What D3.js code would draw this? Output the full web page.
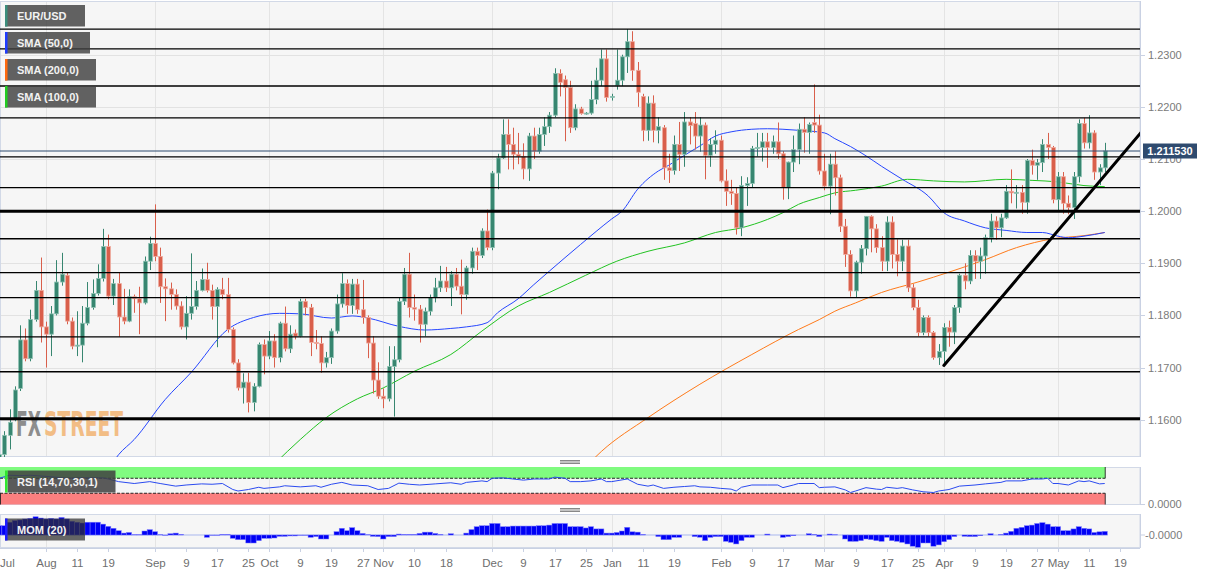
<!DOCTYPE html>
<html><head><meta charset="utf-8">
<script src="https://cdn.jsdelivr.net/npm/d3@7"></script>
<style>body{margin:0;background:#fff}svg{display:block;font-family:"Liberation Sans",Arial,sans-serif}</style>
</head><body><svg id="c" width="1217" height="574"></svg>
<script>
// ---------------- DATA ----------------
const symbol = "EUR/USD";
const firstCandleDate = "2020-07-21";      // first visible daily candle
const lastPrice = 1.211530;
// [open, high, low, close], one per trading day from firstCandleDate
const candles = [
[1.1450,1.1556,1.1440,1.1533],[1.1533,1.1578,1.1525,1.1570],[1.1570,1.1620,1.1543,1.1595],[1.1600,1.1664,1.1597,1.1657],
[1.1660,1.1781,1.1655,1.1753],[1.1753,1.1775,1.1712,1.1717],[1.1717,1.1811,1.1712,1.1792],[1.1792,1.1866,1.1788,1.1848],
[1.1848,1.1911,1.1748,1.1778],[1.1778,1.1788,1.1700,1.1764],[1.1764,1.1818,1.1722,1.1803],[1.1803,1.1906,1.1800,1.1864],
[1.1864,1.1920,1.1857,1.1879],[1.1877,1.1883,1.1783,1.1789],[1.1789,1.1796,1.1735,1.1741],[1.1741,1.1808,1.1722,1.1743],
[1.1743,1.1818,1.1710,1.1785],[1.1785,1.1864,1.1781,1.1815],[1.1815,1.1869,1.1811,1.1842],[1.1842,1.1898,1.1838,1.1871],
[1.1871,1.1966,1.1865,1.1932],[1.1932,1.1955,1.1831,1.1837],[1.1837,1.1870,1.1820,1.1861],[1.1861,1.1883,1.1759,1.1797],
[1.1797,1.1851,1.1783,1.1789],[1.1789,1.1850,1.1787,1.1836],[1.1836,1.1840,1.1805,1.1832],[1.1832,1.1855,1.1764,1.1824],
[1.1824,1.1913,1.1821,1.1904],[1.1904,1.1951,1.1887,1.1938],[1.1938,1.2013,1.1904,1.1913],[1.1913,1.1930,1.1824,1.1855],
[1.1855,1.1871,1.1789,1.1851],[1.1851,1.1863,1.1811,1.1840],[1.1840,1.1850,1.1811,1.1818],[1.1818,1.1827,1.1773,1.1778],
[1.1778,1.1837,1.1754,1.1804],[1.1804,1.1919,1.1792,1.1817],[1.1817,1.1866,1.1811,1.1848],[1.1848,1.1890,1.1846,1.1869],
[1.1869,1.1901,1.1844,1.1848],[1.1848,1.1859,1.1792,1.1817],[1.1817,1.1854,1.1739,1.1850],[1.1850,1.1872,1.1831,1.1840],
[1.1840,1.1872,1.1767,1.1773],[1.1773,1.1777,1.1706,1.1709],[1.1709,1.1716,1.1656,1.1661],[1.1661,1.1689,1.1631,1.1672],
[1.1672,1.1690,1.1614,1.1633],[1.1633,1.1670,1.1616,1.1664],[1.1664,1.1748,1.1662,1.1744],[1.1744,1.1754,1.1687,1.1722],
[1.1722,1.1770,1.1716,1.1751],[1.1751,1.1764,1.1700,1.1719],[1.1719,1.1788,1.1710,1.1785],[1.1785,1.1817,1.1731,1.1736],
[1.1736,1.1781,1.1728,1.1764],[1.1766,1.1773,1.1754,1.1760],[1.1760,1.1832,1.1758,1.1827],[1.1827,1.1832,1.1800,1.1815],
[1.1815,1.1822,1.1722,1.1748],[1.1748,1.1772,1.1735,1.1746],[1.1746,1.1760,1.1690,1.1709],[1.1709,1.1730,1.1700,1.1719],
[1.1719,1.1775,1.1707,1.1770],[1.1770,1.1840,1.1765,1.1822],[1.1822,1.1881,1.1815,1.1861],[1.1861,1.1869,1.1803,1.1819],
[1.1819,1.1870,1.1803,1.1860],[1.1860,1.1870,1.1803,1.1811],[1.1811,1.1868,1.1784,1.1796],[1.1796,1.1800,1.1718,1.1747],
[1.1747,1.1760,1.1650,1.1676],[1.1676,1.1710,1.1640,1.1645],[1.1645,1.1660,1.1622,1.1640],[1.1640,1.1741,1.1635,1.1702],
[1.1702,1.1741,1.1606,1.1715],[1.1715,1.1835,1.1710,1.1827],[1.1827,1.1891,1.1820,1.1879],[1.1879,1.1920,1.1796,1.1815],
[1.1815,1.1840,1.1790,1.1812],[1.1812,1.1820,1.1748,1.1783],[1.1783,1.1815,1.1760,1.1808],[1.1808,1.1840,1.1800,1.1834],
[1.1834,1.1872,1.1825,1.1853],[1.1853,1.1895,1.1845,1.1866],[1.1866,1.1893,1.1845,1.1853],[1.1853,1.1885,1.1818,1.1879],
[1.1879,1.1891,1.1848,1.1856],[1.1856,1.1907,1.1802,1.1840],[1.1840,1.1895,1.1830,1.1891],[1.1891,1.1930,1.1880,1.1923],
[1.1923,1.1930,1.1887,1.1915],[1.1915,1.1967,1.1910,1.1962],[1.1962,1.2003,1.1925,1.1930],[1.1930,1.2077,1.1925,1.2073],
[1.2073,1.2110,1.2042,1.2102],[1.2102,1.2176,1.2100,1.2147],[1.2147,1.2176,1.2080,1.2128],[1.2128,1.2160,1.2080,1.2109],
[1.2109,1.2150,1.2090,1.2105],[1.2105,1.2130,1.2061,1.2081],[1.2081,1.2150,1.2058,1.2144],[1.2144,1.2160,1.2100,1.2115],
[1.2115,1.2160,1.2110,1.2147],[1.2147,1.2180,1.2125,1.2162],[1.2162,1.2190,1.2150,1.2184],[1.2184,1.2274,1.2180,1.2264],
[1.2264,1.2272,1.2220,1.2247],[1.2252,1.2260,1.2134,1.2237],[1.2237,1.2250,1.2150,1.2160],[1.2160,1.2205,1.2155,1.2196],
[1.2196,1.2200,1.2185,1.2187],[1.2187,1.2190,1.2185,1.2188],[1.2188,1.2250,1.2185,1.2214],[1.2214,1.2275,1.2205,1.2251],
[1.2251,1.2310,1.2240,1.2292],[1.2292,1.2310,1.2210,1.2218],[1.2218,1.2225,1.2212,1.2220],[1.2241,1.2310,1.2233,1.2251],
[1.2251,1.2300,1.2240,1.2296],[1.2296,1.2349,1.2265,1.2325],[1.2325,1.2345,1.2250,1.2270],[1.2270,1.2286,1.2200,1.2228],
[1.2220,1.2225,1.2134,1.2155],[1.2155,1.2220,1.2135,1.2207],[1.2207,1.2222,1.2132,1.2155],[1.2155,1.2180,1.2130,1.2162],
[1.2160,1.2165,1.2060,1.2083],[1.2083,1.2110,1.2054,1.2078],[1.2078,1.2145,1.2070,1.2128],[1.2128,1.2171,1.2077,1.2109],
[1.2109,1.2190,1.2085,1.2171],[1.2171,1.2180,1.2128,1.2164],[1.2168,1.2190,1.2118,1.2144],[1.2144,1.2180,1.2114,1.2165],
[1.2165,1.2170,1.2061,1.2107],[1.2107,1.2140,1.2085,1.2128],[1.2128,1.2155,1.2110,1.2136],[1.2136,1.2145,1.2055,1.2058],
[1.2058,1.2080,1.2010,1.2038],[1.2038,1.2060,1.2012,1.2034],[1.2034,1.2045,1.1955,1.1968],[1.1968,1.2067,1.1952,1.2049],
[1.2049,1.2065,1.2010,1.2053],[1.2053,1.2125,1.2045,1.2120],[1.2120,1.2150,1.2105,1.2122],[1.2122,1.2150,1.2095,1.2133],
[1.2133,1.2150,1.2083,1.2122],[1.2122,1.2145,1.2110,1.2133],[1.2133,1.2170,1.2100,1.2110],[1.2110,1.2115,1.2022,1.2045],
[1.2045,1.2095,1.2023,1.2094],[1.2094,1.2145,1.2075,1.2118],[1.2118,1.2168,1.2090,1.2157],[1.2157,1.2180,1.2112,1.2151],
[1.2151,1.2170,1.2110,1.2166],[1.2170,1.2243,1.2150,1.2165],[1.2165,1.2185,1.2070,1.2077],[1.2077,1.2110,1.2040,1.2048],
[1.2048,1.2110,1.1994,1.2090],[1.2090,1.2115,1.2030,1.2064],[1.2064,1.2070,1.1960,1.1971],[1.1971,1.1985,1.1893,1.1917],
[1.1917,1.1925,1.1836,1.1847],[1.1847,1.1905,1.1834,1.1902],[1.1902,1.1935,1.1880,1.1928],[1.1928,1.1990,1.1915,1.1990],
[1.1990,1.1992,1.1921,1.1966],[1.1966,1.1975,1.1920,1.1930],[1.1930,1.1952,1.1885,1.1904],[1.1904,1.1990,1.1885,1.1979],
[1.1979,1.1990,1.1890,1.1917],[1.1917,1.1946,1.1875,1.1904],[1.1904,1.1945,1.1885,1.1933],[1.1933,1.1945,1.1845,1.1853],
[1.1853,1.1860,1.1810,1.1815],[1.1815,1.1830,1.1760,1.1767],[1.1767,1.1800,1.1762,1.1796],[1.1796,1.1800,1.1760,1.1767],
[1.1767,1.1770,1.1715,1.1719],[1.1719,1.1745,1.1705,1.1731],[1.1731,1.1785,1.1705,1.1777],[1.1777,1.1790,1.1740,1.1768],
[1.1768,1.1820,1.1745,1.1815],[1.1815,1.1880,1.1805,1.1877],[1.1877,1.1900,1.1850,1.1866],[1.1866,1.1925,1.1860,1.1915],
[1.1915,1.1925,1.1870,1.1904],[1.1904,1.1930,1.1870,1.1914],[1.1914,1.1955,1.1880,1.1949],[1.1949,1.1995,1.1940,1.1981],
[1.1981,1.1990,1.1945,1.1968],[1.1968,1.1995,1.1950,1.1987],[1.1987,1.2050,1.1985,1.2038],[1.2038,1.2080,1.2015,1.2035],
[1.2035,1.2050,1.2005,1.2036],[1.2036,1.2050,1.1995,1.2017],[1.2017,1.2100,1.1995,1.2097],[1.2097,1.2118,1.2070,1.2088],
[1.2088,1.2100,1.2060,1.2093],[1.2093,1.2138,1.2075,1.2128],[1.2128,1.2150,1.2100,1.2122],[1.2122,1.2125,1.2015,1.2022],
[1.2022,1.2075,1.1999,1.2066],[1.2066,1.2075,1.1995,1.2015],[1.2015,1.2030,1.1994,1.2007],[1.2007,1.2075,1.1985,1.2066],
[1.2066,1.2176,1.2055,1.2168],[1.2168,1.2179,1.2120,1.2131],[1.2131,1.2184,1.2120,1.2150],[1.2150,1.2155,1.2060,1.2075],
[1.2075,1.2090,1.2050,1.2083],[1.2083,1.2131,1.2075,1.21153]
];
// Momentum(20), one per candle
const mom = [
0.029,0.029,0.040,0.045,0.047,0.050,0.052,0.057,0.053,0.050,
0.052,0.050,0.055,0.050,0.043,0.040,0.0375,0.040,0.040,0.040,
0.034,0.027,0.021,0.0135,0.006,0.008,0.001,0.001,0.0125,0.0167,
0.0104,0.001,-0.001,0.004,0.006,0.002,0.000,0.000,0.000,0.000,
-0.0073,-0.001,-0.001,0.002,0.002,-0.0104,-0.0146,-0.0146,-0.025,-0.025,
-0.0177,-0.0104,-0.0104,-0.0094,-0.0042,-0.0042,-0.003,-0.003,-0.001,-0.001,
-0.0073,-0.005,-0.0125,-0.0125,0.000,0.0104,0.021,0.0135,0.023,0.0135,
0.005,0.001,-0.0042,-0.005,-0.0125,-0.005,-0.005,0.003,0.002,0.002,
0.002,0.005,0.009,0.009,0.005,0.002,0.000,0.004,0.000,0.000,
0.006,0.017,0.026,0.029,0.029,0.036,0.036,0.026,0.026,0.028,
0.028,0.028,0.028,0.028,0.029,0.029,0.031,0.036,0.036,0.036,
0.026,0.026,0.026,0.022,0.026,0.019,0.019,0.006,0.006,0.008,
0.0125,0.024,0.010,0.009,0.002,0.000,0.000,-0.005,-0.0146,-0.0146,
-0.0073,-0.0073,0.000,0.000,-0.005,-0.007,-0.0177,-0.0073,-0.005,-0.005,
-0.0198,-0.023,-0.028,-0.0177,-0.0073,-0.0073,0.000,0.000,0.003,0.000,
0.000,-0.0073,-0.005,-0.002,0.000,0.000,0.004,0.002,-0.005,0.000,
0.003,0.001,0.000,-0.0125,-0.0198,-0.0198,-0.0177,-0.0125,-0.0146,-0.0177,
-0.0198,-0.0073,-0.0177,-0.0198,-0.023,-0.028,-0.035,-0.0385,-0.025,-0.025,
-0.035,-0.031,-0.021,-0.0146,-0.005,0.000,-0.004,-0.005,-0.005,-0.002,
0.000,0.004,0.000,0.002,0.006,0.0115,0.021,0.024,0.029,0.031,
0.036,0.0385,0.034,0.026,0.026,0.0135,0.0135,0.019,0.026,0.021,
0.019,0.008,0.010,0.0115
];
// Indicator readings: [trading-day index counted from 2020-07-01, value]
const sma50 = [[35,1.1505],[37,1.1533],[40,1.1562],[46,1.1639],[51,1.1691],[58,1.1773],[63,1.1796],[68,1.1804],[72,1.1803],[78,1.1795],[82,1.1799],[85,1.1795],[91,1.1779],[96,1.1772],[101,1.1775],[104,1.1778],[108,1.1786],[110,1.1805],[114,1.1832],[117,1.1859],[120,1.1885],[126,1.1936],[132,1.1985],[134,1.2000],[137,1.2042],[141,1.2077],[143,1.2088],[146,1.2107],[149,1.2125],[152,1.2144],[155,1.2152],[159,1.2157],[162,1.2158],[165,1.2157],[168,1.2155],[173,1.2150],[175,1.2139],[178,1.2124],[181,1.2106],[184,1.2086],[188,1.2061],[193,1.2029],[196,1.1997],[200,1.1981],[204,1.1968],[208,1.1963],[212,1.1959],[215,1.1959],[218,1.1952],[220,1.1949],[223,1.1952],[227,1.1959]];
const sma100 = [[67,1.1515],[72,1.1562],[77,1.1604],[83,1.1640],[88,1.1661],[94,1.1693],[101,1.1725],[107,1.1770],[114,1.1818],[120,1.1844],[127,1.1877],[133,1.1904],[139,1.1923],[146,1.1939],[152,1.1959],[157,1.1968],[162,1.1984],[165,1.1997],[168,1.2013],[172,1.2026],[175,1.2035],[179,1.2040],[184,1.2048],[189,1.2061],[194,1.2058],[200,1.2056],[208,1.2061],[213,1.2059],[218,1.2056],[223,1.2049],[227,1.2047]];
const sma200 = [[127,1.1510],[130,1.1539],[139,1.1604],[149,1.1668],[159,1.1725],[168,1.1773],[172,1.1792],[175,1.1808],[179,1.1824],[184,1.1844],[191,1.1864],[197,1.1883],[204,1.1907],[210,1.1930],[217,1.1947],[223,1.1953],[227,1.1959]];
const rsi = [[14,70],[16,78],[18,77],[20,78],[22,76],[24,74],[27,70],[30,71],[34,71],[35,68],[37,61],[40,56],[43,61],[45,56],[48,49],[50,52],[53,55],[55,54],[57,56],[59,40],[60,36],[62,40],[64,46],[65,43],[68,47],[69,50],[72,47],[75,50],[76,46],[78,54],[80,59],[82,52],[85,50],[87,40],[89,43],[91,57],[93,54],[95,52],[98,55],[101,58],[103,54],[104,59],[107,63],[108,61],[109,70],[111,71],[113,68],[115,65],[117,68],[120,68],[121,73],[123,70],[124,61],[126,61],[128,63],[130,68],[131,61],[132,61],[135,68],[137,54],[139,49],[140,52],[142,43],[144,46],[146,48],[148,50],[149,47],[151,46],[153,43],[155,41],[156,36],[157,46],[159,52],[162,52],[164,52],[165,45],[167,52],[168,56],[171,56],[172,45],[173,46],[175,47],[177,39],[178,32],[179,36],[181,45],[183,41],[184,40],[185,46],[187,43],[188,45],[190,39],[192,34],[194,32],[195,36],[197,40],[199,49],[202,52],[204,55],[207,59],[208,63],[211,63],[213,68],[215,68],[216,70],[217,56],[218,56],[220,52],[222,63],[223,61],[224,63],[226,55],[227,56]];
// Drawn levels
const levels = [1.2349,1.2311,1.2240,1.2179,1.2104,1.2045,1.1947,1.1882,1.1834,1.1759,1.1692];
const majorLevels = [1.2000,1.1602];
const trendline = [[196,1.1704],[234,1.2151]];
const priceTicks = [1.16,1.17,1.18,1.19,1.20,1.21,1.22,1.23];
const dateTicks = [["2020-08-03","Aug"],["2020-08-11","11"],["2020-08-19","19"],["2020-09-01","Sep"],["2020-09-09","9"],["2020-09-17","17"],["2020-09-25","25"],["2020-10-01","Oct"],["2020-10-09","9"],["2020-10-19","19"],["2020-10-27","27"],["2020-11-02","Nov"],["2020-11-10","10"],["2020-11-18","18"],["2020-12-01","Dec"],["2020-12-09","9"],["2020-12-17","17"],["2020-12-25","25"],["2021-01-01","Jan"],["2021-01-11","11"],["2021-01-19","19"],["2021-02-01","Feb"],["2021-02-09","9"],["2021-02-17","17"],["2021-03-01","Mar"],["2021-03-09","9"],["2021-03-17","17"],["2021-03-25","25"],["2021-04-01","Apr"],["2021-04-09","9"],["2021-04-19","19"],["2021-04-27","27"],["2021-05-03","May"],["2021-05-11","11"],["2021-05-19","19"]];
const monthStarts = ["2020-08-03","2020-09-01","2020-10-01","2020-11-02","2020-12-01","2021-01-01","2021-02-01","2021-03-01","2021-04-01","2021-05-03"];
const legends = [["EUR/USD","#3b8d7c"],["SMA (50,0)","#1f3cff"],["SMA (200,0)","#ff6a10"],["SMA (100,0)","#22cc22"]];

// ---------------- CHART ----------------
const svg = d3.select("#c");
const PX = 1140;
const MAIN = [1, 457], RSIP = [467, 505], MOMP = [514, 548];
const GREEN = "#378670", GREEN_E = "#8fc2b3", RED = "#d95f4b", RED_E = "#eeaa9e";

const fmt = d3.timeFormat("%Y-%m-%d");
const days = d3.timeDays(new Date(2020,6,1), new Date(2021,4,22)).filter(d => d.getDay() % 6 !== 0);
const dayIdx = new Map(days.map((d,i) => [fmt(d), i]));
const i0 = dayIdx.get(firstCandleDate);

const x = d3.scaleLinear().domain([0,230]).range([-73.4,1120.3]);
const y = d3.scaleLinear().domain([1.16,1.23]).range([419.7,54.7]);
const yR = d3.scaleLinear().domain([0,100]).range([504.5,467]);
const yM = d3.scaleLinear().domain([-0.0406,0.0656]).range([548,514]);
const lastIdx = i0 + candles.length - 1;

const defs = svg.append("defs");
[["cm",MAIN],["cr",RSIP],["cmo",MOMP]].forEach(([id,p]) => {
  defs.append("clipPath").attr("id",id).append("rect").attr("x",0).attr("y",p[0]).attr("width",PX).attr("height",p[1]-p[0]);
});

function panel(p){
  svg.append("rect").attr("x",0.5).attr("y",p[0]+0.5).attr("width",PX-0.5).attr("height",p[1]-p[0]-1)
    .attr("fill","#f6f6f6").attr("stroke","#d2d9e7");
  svg.append("g").selectAll("line").data(monthStarts).join("line")
    .attr("x1",d=>Math.round(x(dayIdx.get(d)))+0.5).attr("x2",d=>Math.round(x(dayIdx.get(d)))+0.5)
    .attr("y1",p[0]+1).attr("y2",p[1]-1).attr("stroke","#e4e4e4");
}
panel(MAIN); panel(RSIP); panel(MOMP);

// horizontal grid
svg.append("g").selectAll("line").data(priceTicks).join("line")
  .attr("x1",1).attr("x2",PX).attr("y1",d=>Math.round(y(d))+0.5).attr("y2",d=>Math.round(y(d))+0.5)
  .attr("stroke","#e2e2e2");

// watermark: two parts, small font stretched vertically so the boxes stay tight
const wm = svg.append("g").attr("transform","translate(16,436) scale(1,1.7)")
  .attr("font-family","'DejaVu Sans',sans-serif").attr("font-weight","bold").attr("font-stretch","condensed").attr("font-size",20);
wm.append("text").attr("x",0).attr("y",0).attr("fill","#8d8d8d").attr("textLength",25).attr("lengthAdjust","spacingAndGlyphs").text("FX");
wm.append("text").attr("x",28).attr("y",0).attr("fill","#f2bd85").attr("textLength",79).attr("lengthAdjust","spacingAndGlyphs").text("STREET");

const gm = svg.append("g").attr("clip-path","url(#cm)");
// SMAs
const lineGen = d3.line().x(d=>x(d[0])).y(d=>y(d[1])).curve(d3.curveMonotoneX);
[[sma200,"#ff7a1a"],[sma100,"#22c322"],[sma50,"#2646ff"]].forEach(([s,c]) => {
  gm.append("path").attr("d",lineGen(s)).attr("fill","none").attr("stroke",c).attr("stroke-width",1);
});

// candles
const cg = gm.append("g").selectAll("g").data(candles).join("g");
cg.append("line")
  .attr("x1",(d,k)=>Math.round(x(i0+k))+0.5).attr("x2",(d,k)=>Math.round(x(i0+k))+0.5)
  .attr("y1",d=>y(d[1])).attr("y2",d=>y(d[2]))
  .attr("stroke",d=>d[3]>=d[0]?GREEN:RED).attr("stroke-width",1);
cg.append("rect")
  .attr("x",(d,k)=>Math.round(x(i0+k))+0.5-1.9).attr("width",3.8)
  .attr("y",d=>y(Math.max(d[0],d[3])))
  .attr("height",d=>Math.max(1,y(Math.min(d[0],d[3]))-y(Math.max(d[0],d[3]))))
  .attr("fill",d=>d[3]>=d[0]?GREEN:RED)
  .attr("stroke",d=>d[3]>=d[0]?GREEN_E:RED_E).attr("stroke-width",0.8);

// legends (main)
const lg = svg.append("g");
legends.forEach(([t,c],i) => {
  const widths = [80,85,91,91];
  const top = 5 + i*27;
  lg.append("rect").attr("x",5).attr("y",top).attr("width",widths[i]).attr("height",21.5).attr("fill","rgba(64,64,64,0.82)");
  lg.append("rect").attr("x",5).attr("y",top).attr("width",2.5).attr("height",21.5).attr("fill",c);
  lg.append("text").attr("x",17).attr("y",top+15).attr("fill","#f2f2f2").attr("font-size",11).attr("font-weight","bold").text(t);
});

// horizontal levels
gm.append("g").selectAll("line").data(levels).join("line")
  .attr("x1",0).attr("x2",PX).attr("y1",d=>y(d)).attr("y2",d=>y(d)).attr("stroke","#000").attr("stroke-width",1.3);
gm.append("g").selectAll("line").data(majorLevels).join("line")
  .attr("x1",0).attr("x2",PX).attr("y1",d=>y(d)).attr("y2",d=>y(d)).attr("stroke","#000").attr("stroke-width",3);
// last price line
gm.append("line").attr("x1",0).attr("x2",PX).attr("y1",y(lastPrice)).attr("y2",y(lastPrice)).attr("stroke","#2c4a6e").attr("stroke-width",1);
// trendline
gm.append("line").attr("x1",x(trendline[0][0])).attr("y1",y(trendline[0][1])).attr("x2",x(trendline[1][0])).attr("y2",y(trendline[1][1]))
  .attr("stroke","#000").attr("stroke-width",3).attr("stroke-linecap","round");

// right axis
const ax = svg.append("g").attr("font-size",11).attr("fill","#7a7a7a");
svg.append("line").attr("x1",PX+0.5).attr("x2",PX+0.5).attr("y1",MAIN[0]).attr("y2",MAIN[1]).attr("stroke","#c9d1e3");
priceTicks.forEach(v => {
  svg.append("line").attr("x1",PX).attr("x2",PX+5).attr("y1",Math.round(y(v))+0.5).attr("y2",Math.round(y(v))+0.5).attr("stroke","#c9d1e3");
  ax.append("text").attr("x",1148).attr("y",y(v)).attr("dy","0.36em").text(v.toFixed(4));
});
// price label (sits over the 1.2100 tick label, as in the source)
svg.append("rect").attr("x",1143).attr("y",y(lastPrice)-7.5).attr("width",54).attr("height",15).attr("fill","#2f4b6f");
svg.append("text").attr("x",1170).attr("y",y(lastPrice)).attr("dy","0.36em").attr("text-anchor","middle")
  .attr("fill","#fff").attr("font-size",11).attr("font-weight","bold").text(lastPrice.toFixed(6));

// RSI panel
const gr = svg.append("g").attr("clip-path","url(#cr)");
const bandX1 = x(lastIdx)+0.5;
gr.append("rect").attr("x",0).attr("width",bandX1).attr("y",yR(100)).attr("height",yR(70)-yR(100)).attr("fill","#80fb80");
gr.append("rect").attr("x",0).attr("width",bandX1).attr("y",yR(30)).attr("height",yR(0)-yR(30)).attr("fill","#fb7f7f");
[70,30].forEach(v => gr.append("line").attr("x1",0).attr("x2",bandX1).attr("y1",yR(v)).attr("y2",yR(v))
  .attr("stroke","#111").attr("stroke-dasharray","3,1.5").attr("stroke-width",0.9));
gr.append("line").attr("x1",bandX1).attr("x2",bandX1).attr("y1",yR(100)).attr("y2",yR(70)).attr("stroke","#222").attr("stroke-width",0.9);
gr.append("line").attr("x1",bandX1).attr("x2",bandX1).attr("y1",yR(30)).attr("y2",yR(0)).attr("stroke","#222").attr("stroke-width",0.9);
gr.append("line").attr("x1",0.5).attr("x2",0.5).attr("y1",yR(30)).attr("y2",yR(0)).attr("stroke","#222").attr("stroke-width",0.9);
svg.append("rect").attr("x",7.5).attr("y",470.5).attr("width",108).attr("height",22).attr("fill","rgba(64,64,64,0.86)");
svg.append("rect").attr("x",5).attr("y",470.5).attr("width",2.5).attr("height",22).attr("fill","#2fe82f");
gr.append("path").attr("d",d3.line().x(d=>x(d[0])).y(d=>yR(d[1]))(rsi)).attr("fill","none").attr("stroke","#2a4af0").attr("stroke-width",1);
svg.append("text").attr("x",17).attr("y",486).attr("fill","#f2f2f2").attr("font-size",11).attr("font-weight","bold").text("RSI (14,70,30,1)");
svg.append("line").attr("x1",PX+0.5).attr("x2",PX+0.5).attr("y1",RSIP[0]).attr("y2",RSIP[1]).attr("stroke","#c9d1e3");
svg.append("line").attr("x1",PX).attr("x2",PX+5).attr("y1",504.5).attr("y2",504.5).attr("stroke","#c9d1e3");
ax.append("text").attr("x",1148).attr("y",504.5).attr("dy","0.36em").text("0.0000");

// MOM panel
const gmo = svg.append("g").attr("clip-path","url(#cmo)");
gmo.append("line").attr("x1",0).attr("x2",x(lastIdx)+3).attr("y1",yM(0)).attr("y2",yM(0)).attr("stroke","#a9b7ee");
gmo.selectAll("rect").data(mom).join("rect")
  .attr("x",(d,k)=>x(i0+k)-2.6).attr("width",5.2)
  .attr("y",d=>yM(Math.max(0,d))).attr("height",d=>Math.abs(yM(d)-yM(0)))
  .attr("fill","#0000f5").attr("stroke","#7d7dff").attr("stroke-width",0.5);
svg.append("rect").attr("x",5).attr("y",518.5).attr("width",80).attr("height",22).attr("fill","rgba(45,45,45,0.72)");
svg.append("rect").attr("x",5).attr("y",518.5).attr("width",2.5).attr("height",22).attr("fill","#1d1dff");
svg.append("text").attr("x",17).attr("y",534).attr("fill","#f2f2f2").attr("font-size",11).attr("font-weight","bold").text("MOM (20)");
svg.append("line").attr("x1",PX+0.5).attr("x2",PX+0.5).attr("y1",MOMP[0]).attr("y2",MOMP[1]).attr("stroke","#c9d1e3");
svg.append("line").attr("x1",PX).attr("x2",PX+5).attr("y1",yM(0)).attr("y2",yM(0)).attr("stroke","#c9d1e3");
ax.append("text").attr("x",1145).attr("y",yM(0)).attr("dy","0.36em").text("-0.0000");

// splitter handles
[[460.5,462,463.5],[508.5,510,511.5]].forEach(ys => ys.forEach(v =>
  svg.append("line").attr("x1",560).attr("x2",580).attr("y1",v).attr("y2",v).attr("stroke","#6a6a6a").attr("stroke-width",0.8)));

// date axis
svg.append("line").attr("x1",0).attr("x2",PX).attr("y1",548.5).attr("y2",548.5).attr("stroke","#c9d1e3");
const dx = svg.append("g").attr("font-size",11.5).attr("fill","#6e6e6e");
dateTicks.forEach(([d,t]) => {
  const xi = Math.round(x(dayIdx.get(d)))+0.5;
  svg.append("line").attr("x1",xi).attr("x2",xi).attr("y1",548.5).attr("y2",552).attr("stroke","#c9d1e3");
  dx.append("text").attr("x",xi).attr("y",567).attr("text-anchor","middle").text(t);
});
dx.append("text").attr("x",0).attr("y",567).text("Jul");
</script></body></html>
